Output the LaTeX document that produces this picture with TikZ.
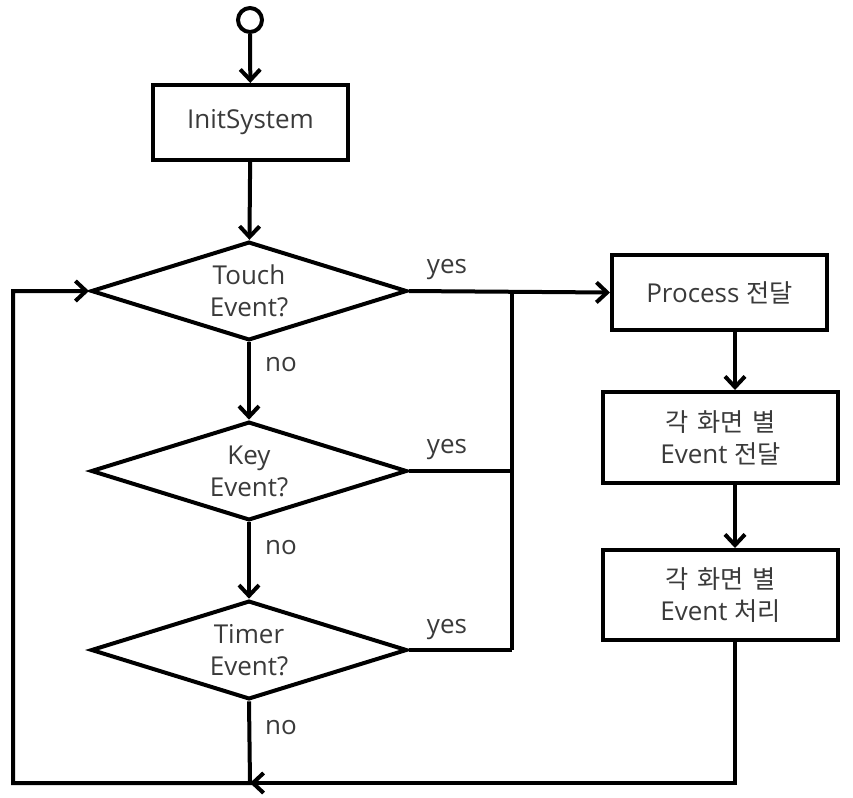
\documentclass[tikz,border=0pt]{standalone}
\usepackage{fontspec}
\setmainfont{Open Sans}
\newfontfamily\kr{Noto Sans CJK KR}[Scale=0.97,WordSpace=1.6]
\usetikzlibrary{shapes.geometric,arrows.meta}
\definecolor{txt}{HTML}{3A3A3A}

\begin{document}
\begin{tikzpicture}[x=0.75pt,y=-0.75pt,
  line width=3pt,
  txtfont/.style={text=txt,font=\fontsize{19.5}{24}\selectfont},
  arr/.style={-{Straight Barb[length=8pt,width=15pt]}},
  stepbox/.style={draw,rectangle,inner sep=0pt,align=center,txtfont},
  decision/.style={draw,diamond,inner sep=0pt,minimum width=237pt,minimum height=74pt,
    label={[txtfont,align=center,inner sep=0pt]center:#1}},
  lbl/.style={txtfont,inner sep=0pt}]
\useasboundingbox (0,0) rectangle (853,797);

% start marker
\node[draw,circle,minimum size=18pt,inner sep=0pt] (start) at (250,20) {};

% left column
\node[stepbox,minimum width=146.25pt,minimum height=56.25pt] (init) at (250.5,122.5) {InitSystem};
\node[decision={Touch\\Event?}] (touch) at (249,291) {};
\node[decision={Key\\Event?}] (key) at (249,471) {};
\node[decision={Timer\\Event?}] (timer) at (249,650) {};

% right column
\node[stepbox,minimum width=161.25pt,minimum height=56.25pt] (proc) at (719.5,292.5) {Process {\kr 전달}};
\node[stepbox,minimum width=176.25pt,minimum height=68.25pt] (ev1) at (720.5,437.5) {{\kr 각 화면 별}\\Event {\kr 전달}};
\node[stepbox,minimum width=176.25pt,minimum height=67.5pt] (ev2) at (720.5,595) {{\kr 각 화면 별}\\Event {\kr 처리}};

% junctions
\coordinate (jt) at (512,291);
\coordinate (jb) at (512,650);
\coordinate (bl) at (13,783);
\coordinate (bm) at (250,783);
\coordinate (br) at (735,783);

% main flow
\draw[arr] (start) -- (init);
\draw[arr] (init) -- (touch);
\draw[arr] (touch) -- (key);
\draw[arr] (key) -- (timer);

% yes branches
\draw[arr] (touch.east) -- (proc.west);
\draw (jt) -- (jb);
\draw (key.east) -- (key.east -| jt);
\draw (timer.east) -- (jb);

% right column
\draw[arr] (proc.south -| br) -- (ev1.north -| br);
\draw[arr] (ev1.south -| br) -- (ev2.north -| br);

% loop back
\draw[arr] (ev2.south -| br) -- (br) -- (bm);
\draw[arr] (timer.south) -- (bm) -- (bl) |- (touch.west);

% labels
\node[lbl] at (447,270) {yes};
\node[lbl] at (447,450) {yes};
\node[lbl] at (447,630) {yes};
\node[lbl] at (281,365) {no};
\node[lbl] at (281,548) {no};
\node[lbl] at (281,728) {no};
\end{tikzpicture}
\end{document}
